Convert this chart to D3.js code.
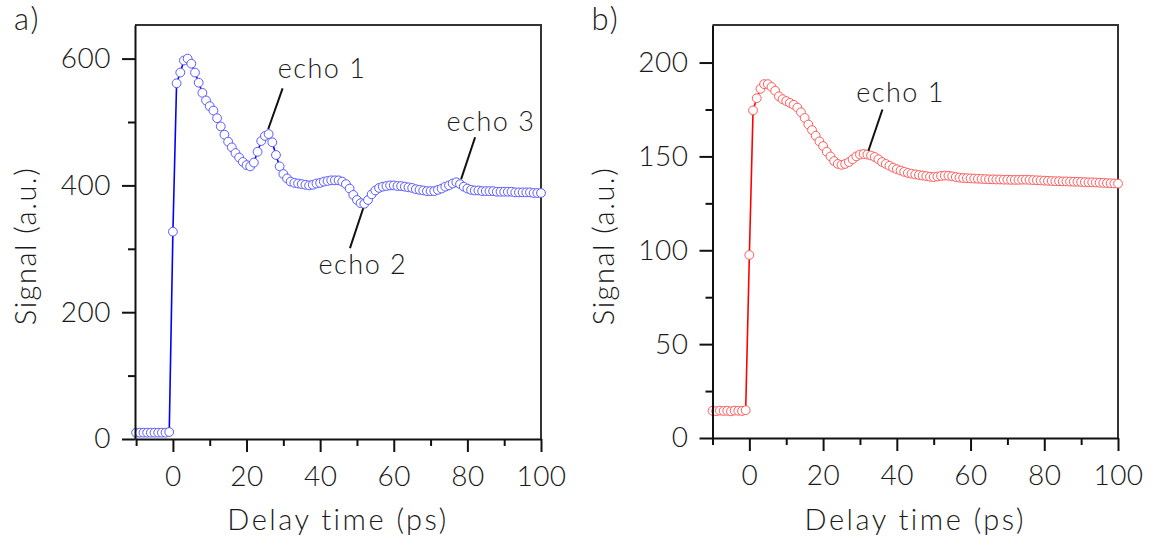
<!DOCTYPE html>
<html>
<head>
<meta charset="utf-8">
<script src="https://cdn.jsdelivr.net/npm/d3@7"></script>
<style>
    body { margin: 0; background: #fff; }
    svg text { font-family: Lato, 'Open Sans', sans-serif; font-weight: 300; fill: #1a1a1a; }
</style>
</head>
<body>
<div id="chart"></div>
<script>
// Data ////////////////////////////////////////////////////////////////////
const delayTime = [
    -10, -9, -8, -7, -6, -5, -4, -3, -2, -1,
    0, 1, 2, 3, 4, 5, 6, 7, 8, 9,
    10, 11, 12, 13, 14, 15, 16, 17, 18, 19,
    20, 21, 22, 23, 24, 25, 26, 27, 28, 29,
    30, 31, 32, 33, 34, 35, 36, 37, 38, 39,
    40, 41, 42, 43, 44, 45, 46, 47, 48, 49,
    50, 51, 52, 53, 54, 55, 56, 57, 58, 59,
    60, 61, 62, 63, 64, 65, 66, 67, 68, 69,
    70, 71, 72, 73, 74, 75, 76, 77, 78, 79,
    80, 81, 82, 83, 84, 85, 86, 87, 88, 89,
    90, 91, 92, 93, 94, 95, 96, 97, 98, 99, 100
]

const signalA = [
    10, 10, 10, 10, 10, 10, 10, 10, 10, 11,
    327, 561, 578, 597, 600, 592, 578, 562, 546, 534,
    525, 518, 506, 493, 480, 469, 460, 451, 444, 437,
    432, 430, 436, 453, 470, 478, 481, 468, 448, 430,
    418, 411, 406, 404, 403, 402, 401, 400, 401, 403,
    404, 406, 407, 408, 408, 408, 406, 402, 395, 385,
    377, 372, 371, 377, 386, 392, 396, 398, 399, 400,
    400, 399, 399, 398, 397, 396, 394, 393, 392, 391,
    391, 391, 393, 395, 398, 400, 403, 405, 402, 398,
    395, 393, 392, 392, 391, 391, 391, 391, 390, 390,
    390, 390, 390, 389, 389, 389, 389, 389, 388, 388, 388
]

const signalB = [
    14.5, 14.3, 14.6, 14.4, 14.5, 14.2, 14.6, 14.5, 14.4, 14.8,
    97.5, 174.5, 181, 186, 188.5, 188.5, 187, 185, 182, 180.5,
    179.5, 178.5, 177.5, 176, 173.5, 170.5, 167, 164, 161, 158,
    155.5, 152.5, 150, 147.5, 146, 145.5, 146, 147, 148.5, 150,
    151, 151.3, 151, 150.5, 149.7, 148.5, 147, 146, 145, 144,
    143.2, 142.5, 141.8, 141.2, 140.8, 140.4, 140.1, 139.8, 139.5, 139.2,
    139, 139.3, 139.6, 139.8, 139.7, 139.4, 139, 138.7, 138.5, 138.4,
    138.3, 138.2, 138.1, 138, 137.9, 137.8, 137.8, 137.7, 137.7, 137.6,
    137.6, 137.5, 137.5, 137.5, 137.6, 137.6, 137.5, 137.4, 137.3, 137.2,
    137.1, 137, 136.9, 136.8, 136.8, 136.7, 136.7, 136.6, 136.5, 136.5,
    136.4, 136.3, 136.2, 136.2, 136.1, 136, 135.9, 135.8, 135.7, 135.6, 135.5
]

const xTicks = [0, 20, 40, 60, 80, 100]
const xMinorTicks = [-10, 10, 30, 50, 70, 90]
const yTicksA = [0, 200, 400, 600]
const yMinorTicksA = [100, 300, 500]
const yTicksB = [0, 50, 100, 150, 200]
const yMinorTicksB = [25, 75, 125, 175]

// annotations: text centre, leader start, leader end (data units)
const echoesA = [
    { label: 'echo 1', t: 40.5, v: 569, x1: 29.8, y1: 553, x2: 25.9, y2: 489 },
    { label: 'echo 2', t: 51.6, v: 260, x1: 48.1, y1: 301, x2: 51.7, y2: 364 },
    { label: 'echo 3', t: 86.4, v: 486, x1: 82.1, y1: 476, x2: 78.3, y2: 410 }
]
const echoesB = [
    { label: 'echo 1', t: 41, v: 179, x1: 36.1, y1: 175, x2: 32.3, y2: 153 }
]
/////////////////////////////////////////////////////////////////////////////

const width = 1156
const height = 545

const svg = d3.select('#chart')
    .append('svg')
    .attr('width', width)
    .attr('height', height)

function drawPanel(opts) {
    const xScale = d3.scaleLinear()
        .domain(opts.xDomain)
        .range([opts.left, opts.right])

    const yScale = d3.scaleLinear()
        .domain(opts.yDomain)
        .range([opts.bottom, opts.top])

    const g = svg.append('g')

    // frame (top + right)
    g.append('path')
        .attr('d', `M${opts.left},${opts.top}H${opts.right}V${opts.bottom}`)
        .attr('fill', 'none')
        .attr('stroke', '#333')
        .attr('stroke-width', 2)

    // line + circles
    const points = delayTime.map((t, i) => ({ t, v: opts.values[i] }))

    const line = d3.line()
        .x(d => xScale(d.t))
        .y(d => yScale(d.v))

    g.append('path')
        .datum(points)
        .attr('d', line)
        .attr('fill', 'none')
        .attr('stroke', opts.lineColor)
        .attr('stroke-width', 1.6)

    g.selectAll('circle')
        .data(points)
        .join('circle')
        .attr('cx', d => xScale(d.t))
        .attr('cy', d => yScale(d.v))
        .attr('r', 4.4)
        .attr('fill', '#fff')
        .attr('stroke', opts.dotColor)
        .attr('stroke-width', 1)

    // axes
    const xAxis = g.append('g')
        .attr('transform', `translate(0, ${opts.bottom})`)
        .call(d3.axisBottom(xScale).tickValues(xTicks).tickSize(13).tickPadding(14).tickSizeOuter(0))
    const xMinor = g.append('g')
        .attr('transform', `translate(0, ${opts.bottom})`)
        .call(d3.axisBottom(xScale).tickValues(xMinorTicks).tickSize(7).tickFormat('').tickSizeOuter(0))

    const yAxis = g.append('g')
        .attr('transform', `translate(${opts.left}, 0)`)
        .call(d3.axisLeft(yScale).tickValues(opts.yTicks).tickSize(13).tickPadding(11).tickSizeOuter(0))
    const yMinor = g.append('g')
        .attr('transform', `translate(${opts.left}, 0)`)
        .call(d3.axisLeft(yScale).tickValues(opts.yMinor).tickSize(7).tickFormat('').tickSizeOuter(0))

    ;[xAxis, xMinor, yAxis, yMinor].forEach(a => {
        a.select('.domain').attr('stroke', '#111').attr('stroke-width', 2)
        a.selectAll('.tick line').attr('stroke', '#111').attr('stroke-width', 2)
        a.selectAll('.tick text')
            .style('font-family', 'Lato, sans-serif')
            .style('font-weight', 300)
            .style('font-size', '28px')
            .style('letter-spacing', '0.5px')
            .attr('fill', '#1a1a1a')
    })
    xMinor.select('.domain').remove()
    yMinor.select('.domain').remove()

    // axis labels
    g.append('text')
        .attr('x', (opts.left + opts.right) / 2)
        .attr('y', 530)
        .attr('text-anchor', 'middle')
        .style('font-size', '29px')
        .style('letter-spacing', '2.5px')
        .text('Delay time (ps)')

    g.append('text')
        .attr('transform', `translate(${opts.left - 99}, 246) rotate(-90)`)
        .attr('text-anchor', 'middle')
        .style('font-size', '29px')
        .style('letter-spacing', '1.5px')
        .text('Signal (a.u.)')

    // panel letter
    g.append('text')
        .attr('x', opts.left - 121)
        .attr('y', 30)
        .style('font-size', '31px')
        .style('letter-spacing', '2px')
        .text(opts.letter)

    // echo annotations
    opts.echoes.forEach(e => {
        g.append('line')
            .attr('x1', xScale(e.x1)).attr('y1', yScale(e.y1))
            .attr('x2', xScale(e.x2)).attr('y2', yScale(e.y2))
            .attr('stroke', '#111')
            .attr('stroke-width', 2)
        g.append('text')
            .attr('x', xScale(e.t))
            .attr('y', yScale(e.v))
            .attr('text-anchor', 'middle')
            .style('font-size', '27px')
            .style('letter-spacing', '1.5px')
            .text(e.label)
    })
}

drawPanel({
    letter: 'a)',
    values: signalA,
    xDomain: [-10.3, 100], yDomain: [0, 653],
    left: 135, right: 541, top: 25, bottom: 439,
    yTicks: yTicksA, yMinor: yMinorTicksA,
    lineColor: '#0000ff', dotColor: '#5a5aff',
    echoes: echoesA
})

drawPanel({
    letter: 'b)',
    values: signalB,
    xDomain: [-10, 100], yDomain: [0, 220],
    left: 712.5, right: 1118, top: 25, bottom: 438,
    yTicks: yTicksB, yMinor: yMinorTicksB,
    lineColor: '#ff0000', dotColor: '#ff5a5a',
    echoes: echoesB
})
</script>
</body>
</html>
